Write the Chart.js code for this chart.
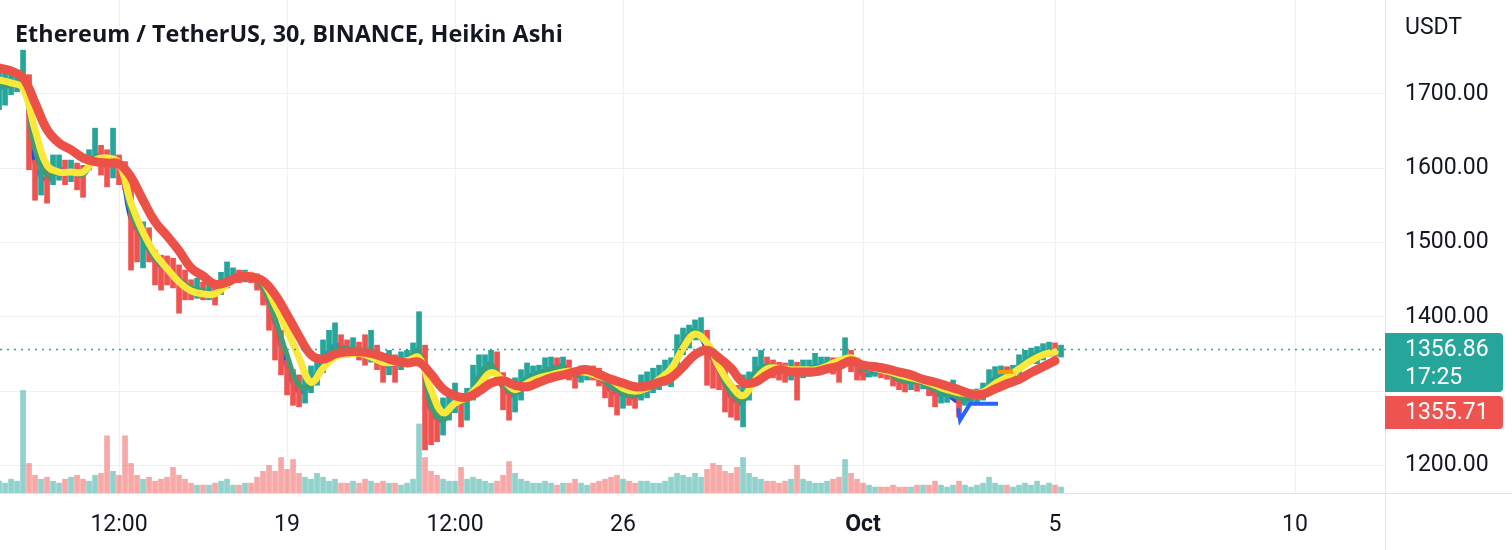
<!DOCTYPE html>
<html><head><meta charset="utf-8">
<script src="https://cdn.jsdelivr.net/npm/chart.js@4.4.0/dist/chart.umd.min.js"></script>
<style>
html,body{margin:0;padding:0;background:#fff;overflow:hidden}
#wrap{position:relative;width:1512px;height:550px}
canvas{position:absolute;left:0;top:0}
#title{position:absolute;left:15px;top:18px;line-height:30px;font-family:"Open Sans",sans-serif;font-weight:700;font-size:23.4px;color:#131722;white-space:nowrap}
#unit{position:absolute;left:1405px;top:13px;line-height:28px;font-family:Roboto,sans-serif;font-size:23px;color:#131722}
</style></head><body>
<div id="wrap"><canvas id="c" width="1512" height="550"></canvas>
<div id="title">Ethereum / TetherUS, 30, BINANCE, Heikin Ashi</div>
<div id="unit">USDT</div></div>
<script>
// time axis: hours since 13 Sep 00:00 UTC
const CANDLE_STEP = 3;   // hours per sampled candle
const MA_STEP = 6;       // hours per sampled MA point

const closes = [1705,1708,1712,1716,1730,1665,1584,1587,1582,1600,
1604,1595,1598,1591,1587,1611,1625,1614,1604,1611,
1600,1591,1524,1504,1504,1497,1470,1466,1463,1460,
1447,1443,1436,1439,1434,1436,1430,1443,1452,1455,
1454,1455,1454,1450,1434,1409,1382,1349,1322,1302,
1299,1304,1315,1329,1345,1362,1366,1362,1358,1360,
1355,1353,1355,1345,1331,1339,1335,1342,1345,1353,
1362,1288,1264,1259,1268,1281,1291,1275,1288,1308,
1326,1331,1339,1335,1302,1288,1295,1308,1322,1325,
1326,1331,1334,1333,1335,1329,1318,1323,1326,1325,
1320,1308,1298,1292,1295,1294,1291,1302,1308,1315,
1318,1326,1331,1355,1369,1376,1382,1385,1342,1329,
1326,1299,1288,1286,1295,1308,1331,1339,1335,1331,
1329,1326,1329,1315,1329,1331,1333,1335,1337,1335,
1331,1353,1342,1329,1326,1329,1330,1327,1326,1319,
1312,1311,1312,1310,1311,1306,1294,1295,1296,1304,
1281,1291,1292,1294,1299,1315,1320,1326,1323,1326,
1334,1345,1349,1350,1353,1357,1355,1357];

const highs = [1732,1730,1726,1730,1759,1726,1611,1609,1604,1618,
1618,1611,1611,1607,1604,1625,1654,1631,1625,1654,
1618,1609,1591,1530,1528,1520,1490,1483,1482,1479,
1470,1463,1450,1452,1447,1450,1443,1460,1474,1466,
1463,1463,1460,1458,1452,1430,1409,1382,1342,1329,
1322,1326,1334,1349,1369,1382,1392,1376,1369,1372,
1366,1376,1382,1362,1349,1355,1349,1353,1355,1365,
1407,1362,1291,1281,1291,1302,1311,1295,1304,1335,
1349,1349,1355,1353,1325,1315,1318,1329,1338,1334,
1335,1345,1346,1345,1346,1342,1331,1334,1334,1334,
1331,1322,1315,1311,1312,1310,1308,1322,1326,1331,
1335,1342,1345,1376,1385,1389,1396,1399,1382,1353,
1349,1333,1311,1308,1322,1326,1346,1355,1346,1342,
1339,1338,1342,1339,1342,1342,1351,1346,1346,1345,
1345,1372,1355,1345,1339,1338,1338,1337,1335,1331,
1323,1322,1322,1320,1320,1318,1307,1306,1307,1315,
1295,1302,1302,1303,1311,1329,1333,1334,1333,1335,
1349,1355,1358,1360,1364,1366,1365,1362];

const lows = [1679,1685,1699,1703,1712,1598,1557,1564,1553,1578,
1584,1578,1582,1571,1561,1598,1609,1591,1575,1587,
1578,1571,1463,1474,1466,1474,1443,1436,1443,1439,
1405,1423,1423,1425,1423,1423,1416,1430,1439,1446,
1446,1447,1446,1436,1416,1382,1342,1322,1295,1281,
1279,1284,1298,1308,1325,1342,1349,1349,1346,1347,
1342,1335,1339,1329,1312,1322,1312,1329,1333,1339,
1342,1221,1228,1232,1241,1261,1271,1252,1261,1288,
1299,1308,1322,1315,1275,1261,1272,1288,1302,1312,
1315,1319,1322,1320,1323,1315,1304,1312,1315,1315,
1307,1291,1279,1268,1277,1281,1277,1288,1291,1298,
1302,1308,1306,1335,1349,1358,1369,1369,1308,1304,
1302,1272,1265,1261,1252,1288,1315,1322,1319,1318,
1315,1312,1315,1288,1318,1320,1322,1325,1326,1323,
1312,1335,1326,1315,1315,1319,1320,1318,1316,1307,
1302,1299,1302,1300,1303,1294,1279,1284,1285,1292,
1265,1281,1283,1284,1288,1299,1308,1315,1314,1316,
1323,1334,1338,1337,1342,1347,1347,1346];

const volumes = [36,30,42,36,312,90,54,42,48,36,
30,42,48,54,42,36,54,60,174,66,
54,174,90,54,42,48,36,42,48,78,
54,42,30,24,24,24,30,36,42,24,
24,30,30,48,66,84,66,108,72,102,
60,48,42,60,48,36,42,30,30,36,
30,42,36,30,36,30,30,24,30,42,
210,108,66,54,42,36,36,78,42,48,
42,36,30,36,54,96,60,42,36,30,
30,36,30,24,30,30,42,30,24,30,
36,42,48,54,42,36,30,36,36,30,
30,36,48,60,54,48,60,48,72,90,
84,66,60,78,108,60,48,42,36,36,
30,36,42,84,42,36,30,30,36,42,
48,102,60,42,30,24,18,18,18,24,
18,18,18,24,24,24,36,24,18,24,
36,24,18,24,30,48,30,24,24,18,
24,30,24,36,24,30,24,18];

const maRed = [1735,1731,1722,1688,1652,1634,1625,1614,1609,1607,
1606,1588,1557,1528,1509,1489,1466,1455,1444,1447,
1454,1454,1448,1430,1403,1374,1349,1343,1350,1353,
1353,1351,1346,1341,1338,1339,1323,1303,1294,1292,
1300,1311,1314,1308,1306,1312,1318,1322,1326,1329,
1323,1316,1311,1306,1307,1312,1318,1333,1349,1355,
1345,1331,1312,1312,1322,1329,1326,1326,1326,1330,
1334,1341,1335,1333,1330,1326,1322,1316,1312,1307,
1302,1296,1296,1303,1310,1316,1325,1333,1341];

const maYellow = [1719,1715,1708,1652,1604,1595,1595,1595,1611,1614,
1607,1553,1514,1485,1465,1447,1435,1431,1431,1444,
1454,1456,1447,1416,1382,1345,1312,1331,1346,1350,
1351,1346,1339,1339,1341,1345,1302,1271,1284,1292,
1308,1325,1315,1302,1311,1318,1322,1326,1327,1325,
1320,1315,1304,1300,1304,1316,1330,1358,1377,1365,
1333,1308,1294,1315,1330,1331,1329,1329,1329,1334,
1341,1345,1335,1331,1327,1322,1318,1314,1308,1302,
1298,1296,1299,1310,1319,1330,1341,1349,1353];

const maGreen = [1712,1713,1716,1625,1591,1595,1596,1592,1611,1611,
1604,1541,1506,1479,1464,1450,1439,1435,1431,1447,
1454,1454,1440,1398,1349,1308,1308,1335,1355,1357,
1354,1350,1338,1338,1342,1353,1281,1261,1284,1288,
1318,1334,1310,1298,1315,1322,1329,1331,1323,1325,
1320,1306,1298,1294,1304,1316,1329,1364,1380,1362,
1329,1298,1288,1322,1334,1330,1329,1329,1331,1335,
1337,1343,1330,1330,1326,1316,1314,1311,1302,1298,
1291,1292,1298,1314,1320,1331,1345,1350,1354];

const maBlue = [1708,1712,1722,1604,1584,1598,1596,1590,1617,1609,
1602,1530,1504,1474,1463,1447,1436,1434,1431,1450,
1454,1454,1436,1388,1331,1299,1311,1342,1362,1358,
1355,1353,1335,1337,1343,1355,1272,1261,1288,1288,
1322,1337,1304,1295,1319,1325,1331,1334,1320,1325,
1320,1300,1295,1292,1307,1318,1331,1366,1382,1355,
1326,1291,1285,1326,1335,1329,1329,1329,1333,1337,
1334,1342,1322,1326,1326,1314,1312,1310,1296,1295,
1285,1291,1298,1318,1322,1334,1347,1353,1355];

// drawn tool lines (hour, price)
const drawBlueHours = [479.5, 480.5, 485.5, 499.5];
const drawBluePrices = [1277, 1261, 1283, 1283];
const drawOrangeHours = [499.5, 507];
const drawOrangePrices = [1326, 1326];

const tickHours = [60, 144, 228, 312, 432, 528, 648];
const tickLabels = ['12:00', '19', '12:00', '26', 'Oct', '5', '10'];
const priceTicks = [1200, 1300, 1400, 1500, 1600, 1700];

const lastPrice = 1356.86;
const countdown = '17:25';
const maLastValue = 1355.71;

const UP = '#26a69a', DOWN = '#ef5350', GRID = '#eef0f3', TXT = '#131722';
const candleColors = closes.map((c, i) => c >= (i ? closes[i - 1] : c) ? UP : DOWN);
const volColors = candleColors.map(c => c === UP ? 'rgba(38,166,154,0.5)' : 'rgba(239,83,80,0.5)');
const candleHour = i => i * CANDLE_STEP;
const maPts = arr => arr.map((v, k) => ({ x: k * MA_STEP, y: v }));

const overlay = {
  id: 'overlay',
  afterDatasetsDraw(chart) {
    const { ctx, chartArea: a } = chart;
    const py = Math.round(chart.scales.y.getPixelForValue(lastPrice)) + 0.5;
    ctx.save();
    ctx.strokeStyle = UP; ctx.lineWidth = 1.5; ctx.setLineDash([2, 5]);
    ctx.beginPath(); ctx.moveTo(a.left, py); ctx.lineTo(a.right, py); ctx.stroke();
    ctx.restore();
  },
  afterDraw(chart) {
    const { ctx, chartArea: a } = chart;
    ctx.save();
    ctx.strokeStyle = '#e0e3eb'; ctx.lineWidth = 1;
    ctx.beginPath();
    ctx.moveTo(a.right + 0.5, 0); ctx.lineTo(a.right + 0.5, chart.height);
    ctx.moveTo(0, a.bottom + 0.5); ctx.lineTo(chart.width, a.bottom + 0.5);
    ctx.stroke();
    const py = chart.scales.y.getPixelForValue(lastPrice);
    const bx = a.right, bw = 118;
    const t1 = Math.round(py - 16), h1 = 59;
    ctx.fillStyle = UP;
    ctx.beginPath(); ctx.roundRect(bx, t1, bw, h1, [0, 4, 4, 0]); ctx.fill();
    const t2 = t1 + h1 + 4, h2 = 33;
    ctx.fillStyle = DOWN;
    ctx.beginPath(); ctx.roundRect(bx, t2, bw, h2, [0, 4, 4, 0]); ctx.fill();
    ctx.fillStyle = '#ffffff';
    ctx.font = '23px Roboto';
    ctx.textBaseline = 'middle'; ctx.textAlign = 'left';
    ctx.fillText(lastPrice.toFixed(2), bx + 20, t1 + 17);
    ctx.fillText(countdown, bx + 20, t1 + 45);
    ctx.fillText(maLastValue.toFixed(2), bx + 20, t2 + 17);
    ctx.restore();
  }
};

new Chart(document.getElementById('c'), {
  type: 'bar',
  data: {
    datasets: [
      { type: 'line', label: 'draw blue', data: drawBlueHours.map((h, i) => ({ x: h, y: drawBluePrices[i] })),
        borderColor: '#2962ff', borderWidth: 4, pointRadius: 0, order: 0 },
      { type: 'line', label: 'draw orange', data: drawOrangeHours.map((h, i) => ({ x: h, y: drawOrangePrices[i] })),
        borderColor: '#ff9800', borderWidth: 4, pointRadius: 0, order: 0 },
      { type: 'line', label: 'MA slow', data: maPts(maRed), borderColor: '#ec5148', borderWidth: 9,
        pointRadius: 0, tension: 0.4, borderCapStyle: 'round', borderJoinStyle: 'round', order: 1 },
      { type: 'line', label: 'MA mid', data: maPts(maYellow), borderColor: '#fce83a', borderWidth: 7,
        pointRadius: 0, tension: 0.4, borderCapStyle: 'round', borderJoinStyle: 'round', order: 2 },
      { type: 'line', label: 'MA fast', data: maPts(maGreen), borderColor: '#3b9f72', borderWidth: 5,
        pointRadius: 0, tension: 0.4, borderCapStyle: 'round', order: 3 },
      { type: 'bar', label: 'HA', data: closes.map((c, i) => ({ x: candleHour(i), y: [lows[i], highs[i]] })),
        backgroundColor: candleColors, barThickness: 5, grouped: false, order: 4 },
      { type: 'line', label: 'MA fastest', data: maPts(maBlue), borderColor: '#3048d8', borderWidth: 4,
        pointRadius: 0, tension: 0.4, borderCapStyle: 'round', order: 5 },
      { type: 'bar', label: 'Volume', yAxisID: 'yv', data: volumes.map((v, i) => ({ x: candleHour(i), y: v })),
        backgroundColor: volColors, barThickness: 5, grouped: false, order: 6 }
    ]
  },
  options: {
    responsive: false, maintainAspectRatio: false, animation: false, devicePixelRatio: 1, events: [],
    layout: { padding: 0 },
    plugins: { legend: { display: false }, tooltip: { enabled: false } },
    scales: {
      x: {
        type: 'linear', min: 0.48, max: 692.98, offset: false,
        afterBuildTicks: s => { s.ticks = tickHours.map(v => ({ value: v })); },
        afterFit: s => { s.height = 57; s.paddingLeft = 0; s.paddingRight = 0; },
        grid: { color: GRID, drawTicks: false, offset: false },
        border: { display: false },
        ticks: {
          autoSkip: false, maxRotation: 0, padding: 18, color: TXT,
          font: ctx => ({ family: 'Roboto', size: 23,
            weight: (ctx.tick && tickLabels[tickHours.indexOf(ctx.tick.value)] === 'Oct') ? 'bold' : 'normal' }),
          callback: v => tickLabels[tickHours.indexOf(v)]
        }
      },
      y: {
        type: 'linear', position: 'right', min: 1163, max: 1826.5,
        afterBuildTicks: s => { s.ticks = priceTicks.map(v => ({ value: v })); },
        afterFit: s => { s.width = 127; s.paddingTop = 0; s.paddingBottom = 0; },
        grid: { color: GRID, drawTicks: false },
        border: { display: false },
        ticks: {
          padding: 20, color: TXT, font: { family: 'Roboto', size: 23 },
          callback: v => (v > lastPrice - 110 && v < lastPrice + 30) ? '' : v.toFixed(2)
        }
      },
      yv: { type: 'linear', display: false, min: 0, max: 1500 }
    }
  },
  plugins: [overlay]
});
</script>
</body></html>
